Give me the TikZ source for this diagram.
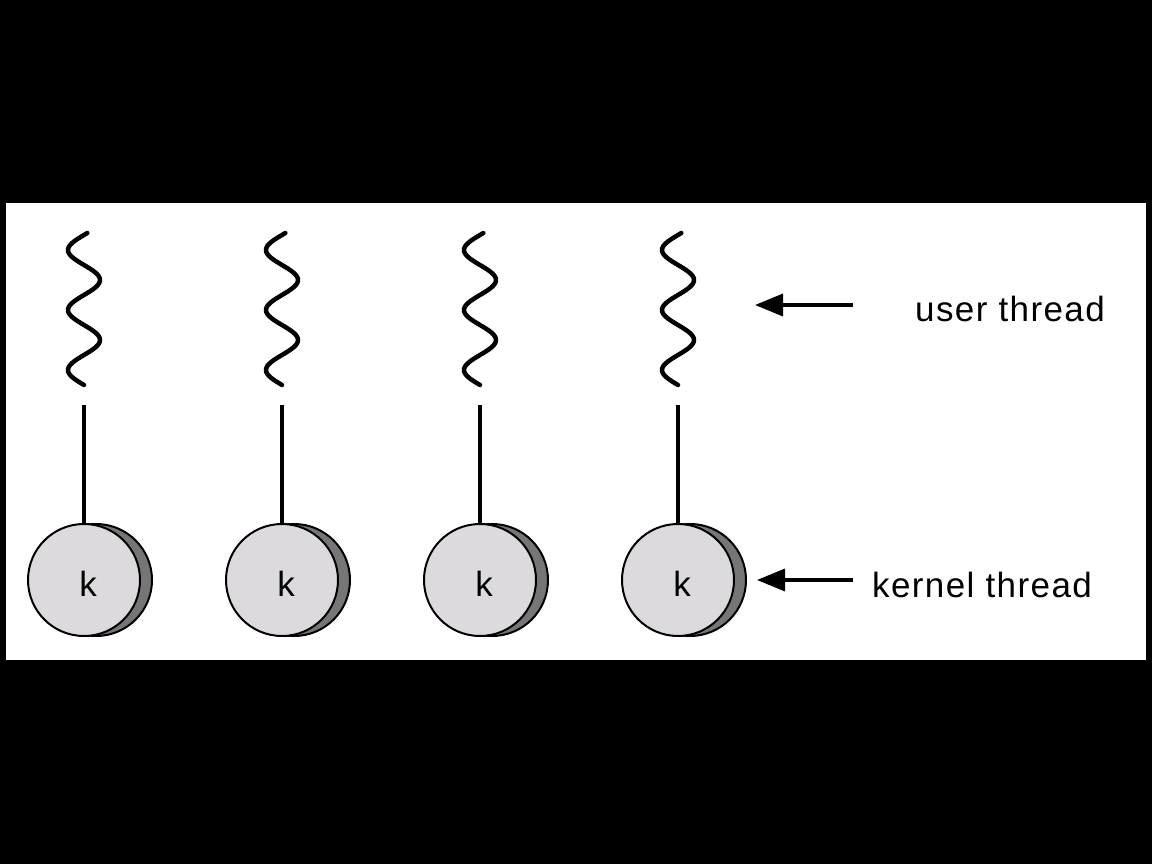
\documentclass[tikz,border=0pt]{standalone}
\usepackage{fontspec}
\setmainfont{Liberation Sans}
\usetikzlibrary{arrows.meta}
\begin{document}
\begin{tikzpicture}[x=1pt,y=-1pt,
  wave/.style={line width=4.5pt,line cap=round,line join=round},
  link/.style={line width=4pt},
  kfront/.style={circle,draw=black,line width=2pt,fill=kfill,minimum size=112pt,inner sep=0pt},
  kback/.style={circle,draw=black,line width=2pt,fill=kshade,minimum size=112pt,inner sep=0pt},
  klbl/.style={inner sep=0pt,anchor=base,font=\fontsize{35}{40}\selectfont},
  pointer/.style={line width=3.5pt,-{Triangle[length=28pt,width=22pt]}},
  lbl/.style={anchor=base west,inner sep=0pt,font=\fontsize{35}{40}\selectfont\addfontfeatures{LetterSpace=4}}]
\definecolor{kfill}{HTML}{DCDADD}
\definecolor{kshade}{HTML}{767676}
\useasboundingbox (0,0) rectangle (1152,864);
\fill[black] (0,0) rectangle (1152,864);
\fill[white] (6,203) rectangle (1146,660);
\foreach \i/\xc in {1/84,2/282,3/480,4/678}{
  \draw[wave] plot[variable=\t,domain=233:385,samples=120,smooth] ({\xc-16*sin(6*(\t-235))},\t);
  \coordinate (u\i) at (\xc,405);
  \node[kback] (s\i) at (\xc+12,580) {};
  \node[kfront] (k\i) at (\xc,580) {};
  \node[klbl] (t\i) at (\xc+4,596) {k};
  \draw[link] (u\i) -- (k\i.north);
}
\node[lbl] (ut) at (915,321) {user thread};
\node[lbl] (kt) at (872,597) {kernel thread};
\coordinate (ua) at (853,305);
\coordinate (ub) at (755,305);
\coordinate (ka) at (853,580);
\coordinate (kb) at (757,580);
\draw[pointer] (ua) -- (ub);
\draw[pointer] (ka) -- (kb);
\end{tikzpicture}
\end{document}
